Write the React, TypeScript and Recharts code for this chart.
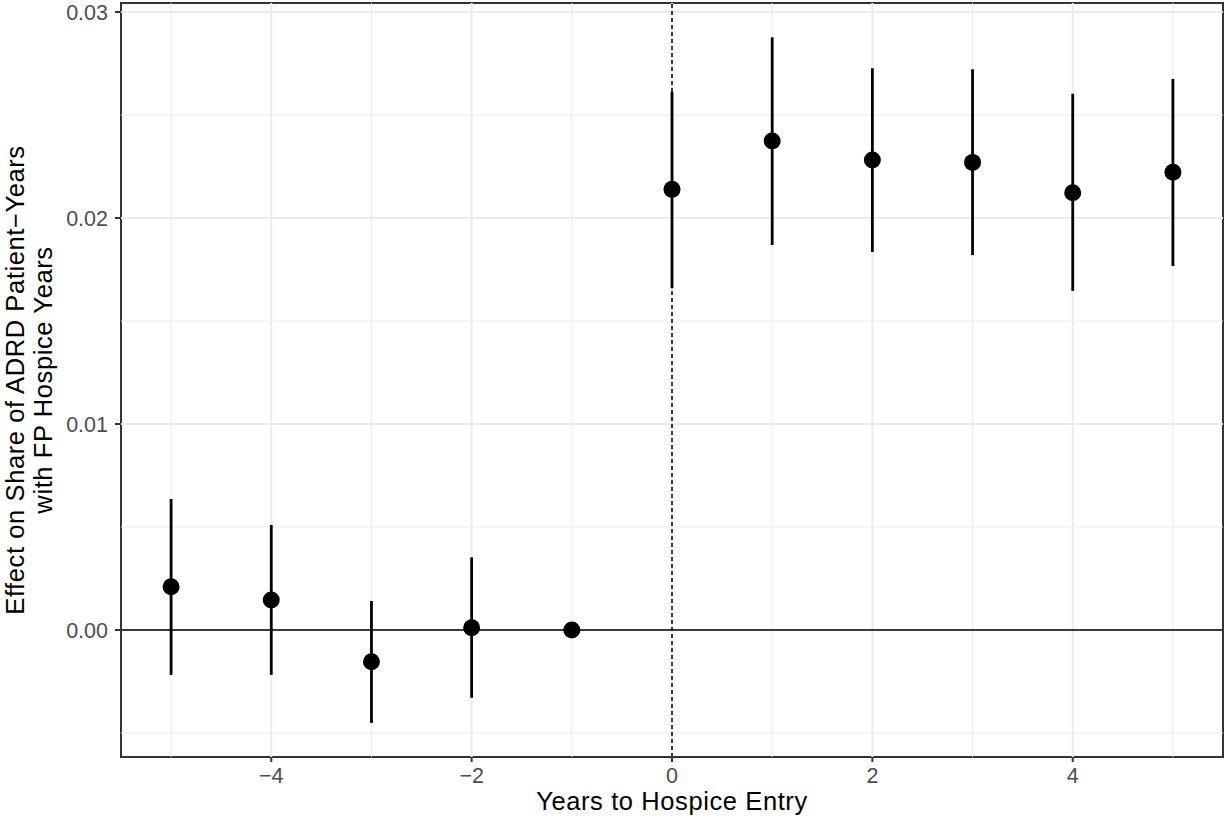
import { ComposedChart, ErrorBar, ReferenceArea, ReferenceLine, Scatter, XAxis, YAxis } from "recharts"

const years = [-5, -4, -3, -2, -1, 0, 1, 2, 3, 4, 5]
const estimate = [0.0021, 0.00146, -0.00154, 0.00011, 0, 0.02139, 0.02374, 0.02282, 0.0227, 0.02123, 0.02222]
const lower = [-0.00218, -0.00218, -0.00451, -0.00329, 0, 0.01659, 0.01869, 0.01835, 0.0182, 0.01646, 0.01767]
const upper = [0.00636, 0.0051, 0.00141, 0.00353, 0, 0.02613, 0.02877, 0.02727, 0.02722, 0.02603, 0.02675]

const xTicks = [-4, -2, 0, 2, 4]
const xMinor = [-5, -3, -1, 1, 3, 5]
const yTicks = [0, 0.01, 0.02, 0.03]
const yMinor = [-0.005, 0.005, 0.015, 0.025]

const X_DOMAIN: [number, number] = [-5.5, 5.5]
const Y_DOMAIN: [number, number] = [-0.006165, 0.030437]

const font = "'Liberation Sans', Arial, Helvetica, sans-serif"

const data = years.map((x, i) => ({
  x,
  y: estimate[i],
  err: [estimate[i] - lower[i], upper[i] - estimate[i]],
}))

const dot = (props: any) => <circle cx={props.cx} cy={props.cy} r={8.5} fill="#000" />

const YTitle = () => (
  <g fontFamily={font} fontSize={25.5} letterSpacing={0.6} fill="#000" textAnchor="middle">
    <text x={23.5} y={380} transform="rotate(-90 23.5 380)">
      Effect on Share of ADRD Patient−Years
    </text>
    <text x={52} y={380} transform="rotate(-90 52 380)">
      with FP Hospice Years
    </text>
  </g>
)

const XTitle = () => (
  <text x={672} y={810} fontFamily={font} fontSize={25.5} letterSpacing={0.6} fill="#000" textAnchor="middle">
    Years to Hospice Entry
  </text>
)

export default function App() {
  return (
    <div style={{ position: "absolute", left: 0, top: 0, background: "#fff" }}>
      <ComposedChart width={1225} height={825} data={data} margin={{ top: 3, right: 2, bottom: 0, left: 0 }}>
        <XAxis
          type="number"
          dataKey="x"
          domain={X_DOMAIN}
          ticks={xTicks}
          allowDataOverflow
          height={68}
          axisLine={false}
          tickSize={5}
          tickMargin={6}
          tickLine={{ stroke: "#333", strokeWidth: 2 }}
          tick={{ fill: "#4d4d4d", fontSize: 21.5, fontFamily: font }}
          tickFormatter={(v) => String(v).replace("-", "−")}
          label={{ content: XTitle }}
        />
        <YAxis
          type="number"
          domain={Y_DOMAIN}
          ticks={yTicks}
          allowDataOverflow
          width={121}
          axisLine={false}
          tickSize={6}
          tickMargin={7}
          tickLine={{ stroke: "#333", strokeWidth: 2 }}
          tick={{ fill: "#4d4d4d", fontSize: 21.5, fontFamily: font }}
          tickFormatter={(v) => Number(v).toFixed(2)}
          label={{ content: YTitle }}
        />
        {yMinor.map((v) => (
          <ReferenceLine key={`ym${v}`} y={v} stroke="#ebebeb" strokeWidth={1} />
        ))}
        {xMinor.map((v) => (
          <ReferenceLine key={`xm${v}`} x={v} stroke="#ebebeb" strokeWidth={1} />
        ))}
        {yTicks.map((v) => (
          <ReferenceLine key={`yM${v}`} y={v} stroke="#ebebeb" strokeWidth={2} />
        ))}
        {xTicks.map((v) => (
          <ReferenceLine key={`xM${v}`} x={v} stroke="#ebebeb" strokeWidth={2} />
        ))}
        <ReferenceLine y={0} stroke="#000" strokeWidth={1.5} />
        <ReferenceLine x={0} stroke="#000" strokeWidth={1.5} strokeDasharray="4 3" />
        <Scatter dataKey="y" shape={dot} isAnimationActive={false}>
          <ErrorBar dataKey="err" direction="y" width={0} stroke="#000" strokeWidth={2.8} isAnimationActive={false} />
        </Scatter>
        <ReferenceArea
          x1={X_DOMAIN[0]}
          x2={X_DOMAIN[1]}
          y1={Y_DOMAIN[0]}
          y2={Y_DOMAIN[1]}
          fill="none"
          stroke="#333"
          strokeWidth={2}
          ifOverflow="visible"
        />
      </ComposedChart>
    </div>
  )
}
